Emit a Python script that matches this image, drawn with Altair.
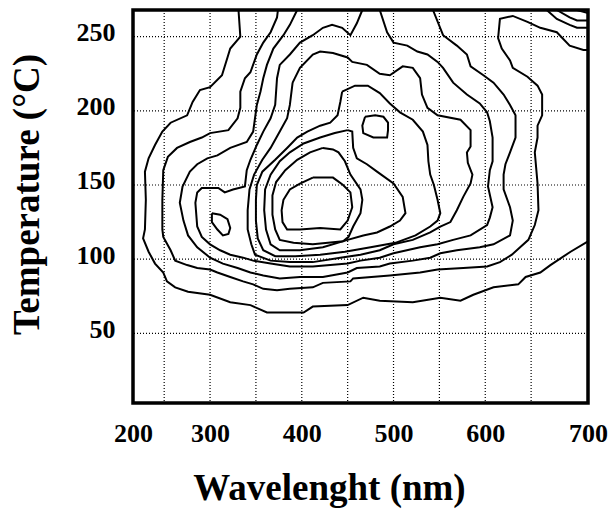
import altair as alt
import pandas as pd

# ---- contour lines: wavelength (nm) / temperature (°C) ----
A_nm = [331,333,322,319,313,300,289,281,275,257,248,240,233,229,230,229,227,233,240,249,
        253,262,276,300,322,344,362,387,402,412,450,467,485,521,551,573,587,609,636,644,
        660,671,693,712]
A_T = [268,250,242,236,224,216,214,206,197,192,186,177,168,159,140,120,114,105,97,91,
       85,81,78,76,71,69,64,64,64,68,69,74,72,71,74,72,76,81,83,88,
       91,96,105,112]

B_nm = [374,373,366,358,351,344,338,333,333,330,320,300,291,278,264,254,249,248,248,249,
        257,262,275,286,300,308,322,336,347,358,373,387,412,423,453,456,496,529,548,576,
        602,616,629,638,647,654,658,657,654,657,657,662,662,657,646,630,627,618,614,616,
        630,646,660,678,692,707,712]
B_T = [268,263,253,246,238,226,222,213,202,195,187,185,182,179,175,169,160,140,120,115,
       106,99,96,94,93,91,88,85,83,80,79,80,81,84,85,87,89,91,93,94,
       95,98,103,108,113,123,133,151,172,182,190,197,211,217,223,229,234,242,249,262,
       264,260,256,253,244,241,241]

C_nm = [395,387,380,369,362,358,355,351,349,347,340,322,308,297,286,278,270,267,271,276,
        286,300,314,330,344,358,376,398,423,450,460,485,496,521,540,551,569,594,609,627,
        630,627,620,620,622,627,633,633,627,620,609,598,584,580,569,554,543]
C_T = [268,258,251,242,231,222,213,204,195,186,179,175,170,168,164,159,149,138,126,116,
       108,101,97,94,91,89,87,88,88,91,94,95,97,99,101,104,106,108,110,116,
       126,135,147,157,164,172,182,197,204,211,219,224,230,238,244,251,268]

D_nm = [466,460,453,444,433,423,412,398,387,376,373,371,366,358,351,344,340,338,325,316,
        309,291,286,284,286,291,300,311,322,336,347,366,387,412,450,464,485,500,529,548,
        565,584,602,605,608,603,605,608,608,605,602,594,580,565,554,548,537,526,515,500,
        493,485]
D_T = [268,259,251,256,258,256,251,246,238,231,222,204,195,186,177,167,160,149,147,145,
       148,148,145,138,122,115,110,106,103,101,99,97,95,95,97,99,101,104,108,110,
       113,116,123,128,135,149,160,166,182,193,199,205,211,219,229,233,238,240,244,246,
       253,268]

E_nm = [390,398,412,420,434,450,455,471,485,496,510,521,529,531,537,548,573,584,584,580,
        581,586,584,576,569,562,551,540,521,500,485,464,442,412,387,366,349,345,341,341,
        343,348,357,366,376,384,387,390]
E_T = [219,229,238,240,239,236,233,231,225,224,230,229,222,211,202,197,194,187,176,172,
       165,157,151,142,133,125,122,118,113,110,106,103,101,98,98,99,103,110,120,133,
       147,157,167,175,186,195,204,219]

F_nm = [444,458,472,485,496,507,521,532,537,538,540,544,548,551,548,540,524,502,475,447,
        420,393,371,358,352,350,350,351,357,371,384,395,406,420,431,439,442,444]
F_T = [213,217,217,212,205,199,194,186,177,166,157,150,140,131,126,122,116,111,108,105,
       103,102,102,106,114,126,140,150,159,167,175,182,186,190,192,197,206,213]

O_nm = [450,455,456,460,471,482,500,510,513,507,496,482,467,450,423,398,376,366,361,359,
        360,366,376,387,402,420,436,450]
O_T = [187,186,175,168,164,159,151,142,131,126,122,118,116,113,108,106,106,110,120,133,
       147,157,166,172,178,182,185,187]

N_nm = [423,434,440,447,453,464,466,464,456,451,445,412,391,376,371,368,368,372,382,395,
        409,423]
N_T = [175,174,172,166,157,147,140,131,122,115,112,110,111,113,120,130,143,152,160,167,
       172,175]

M_nm = [412,426,434,445,453,455,450,442,420,398,384,379,378,380,387,398,412]
M_T = [155,155,155,150,145,135,126,120,121,120,120,125,133,140,147,151,155]

J_nm = [469,480,489,494,494,493,478,467,466,469]
J_T = [196,197,196,192,187,182,182,185,190,196]

L_nm = [302,311,319,322,320,314,308,302,302]
L_T = [131,130,127,121,117,116,120,125,131]

Q1_nm = [667,678,692,700,712]
Q1_T = [268,262,258,256,256]
Q2_nm = [678,692,700,712]
Q2_T = [268,263,261,261]
Q3_nm = [700,712]
Q3_T = [268,266]

# grid positions and axis labels
GRID_NM = [250, 300, 350, 400, 450, 500, 550, 600, 650]
GRID_T = [50, 100, 150, 200, 250]
X_LABEL_POS = [216, 300, 400, 500, 600, 712]
Y_LABELS = [50, 100, 150, 200, 250]

contours = {
    "A": (A_nm, A_T), "B": (B_nm, B_T), "C": (C_nm, C_T), "D": (D_nm, D_T),
    "E": (E_nm, E_T), "F": (F_nm, F_T), "O": (O_nm, O_T), "N": (N_nm, N_T),
    "M": (M_nm, M_T), "J": (J_nm, J_T), "L": (L_nm, L_T),
    "Q1": (Q1_nm, Q1_T), "Q2": (Q2_nm, Q2_T), "Q3": (Q3_nm, Q3_T),
}
rows = []
for name, (xs, ys) in contours.items():
    for i, (x, y) in enumerate(zip(xs, ys)):
        rows.append({"c": name, "i": i, "nm": x, "T": y})
df = pd.DataFrame(rows)

FONT = "Liberation Serif"
x_scale = alt.Scale(domain=[216, 712], nice=False, zero=False)
y_scale = alt.Scale(domain=[3, 268], nice=False, zero=False)

x_axis = alt.Axis(
    title="Wavelenght (nm)", values=X_LABEL_POS,
    labelExpr="datum.value < 250 ? '200' : (datum.value > 650 ? '700' : datum.label)",
    grid=False, ticks=False, tickSize=0, domain=False,
    labelFont=FONT, labelFontWeight="bold", labelFontSize=26, labelColor="black",
    labelBaseline="alphabetic", labelPadding=38, labelFlush=False, labelOverlap=False,
    titleFont=FONT, titleFontWeight="bold", titleFontSize=37, titleColor="black",
    titleX=196, titleY=96, titleAlign="center", titleBaseline="alphabetic",
)
y_axis = alt.Axis(
    title="Temperature (°C)", values=Y_LABELS,
    grid=False, ticks=False, tickSize=0, domain=False,
    labelFont=FONT, labelFontWeight="bold", labelFontSize=26, labelColor="black",
    labelPadding=18, labelOffset=-4, labelOverlap=False,
    titleFont=FONT, titleFontWeight="bold", titleFontSize=37, titleColor="black",
    titleX=-95, titleY=184, titleAngle=270, titleAlign="center",
    titleBaseline="alphabetic",
)

vgrid = alt.Chart(pd.DataFrame({"nm": GRID_NM})).mark_rule(
    color="black", strokeDash=[1, 2], strokeWidth=1.2
).encode(x=alt.X("nm:Q", scale=x_scale, axis=x_axis))

hgrid = alt.Chart(pd.DataFrame({"T": GRID_T})).mark_rule(
    color="black", strokeDash=[1, 2], strokeWidth=1.2
).encode(y=alt.Y("T:Q", scale=y_scale, axis=y_axis))

lines = alt.Chart(df).mark_line(color="black", strokeWidth=2).encode(
    x=alt.X("nm:Q", scale=x_scale, axis=x_axis),
    y=alt.Y("T:Q", scale=y_scale, axis=y_axis),
    detail="c:N",
    order="i:Q",
)

chart = alt.layer(vgrid, hgrid, lines).properties(
    width=455, height=393,
    autosize=alt.AutoSizeParams(type="none"),
    padding={"left": 133, "top": 10, "right": 22, "bottom": 106},
).configure_view(stroke="black", strokeWidth=3.5)

chart.save("out.html", embed_options={"renderer": "svg", "actions": False})
